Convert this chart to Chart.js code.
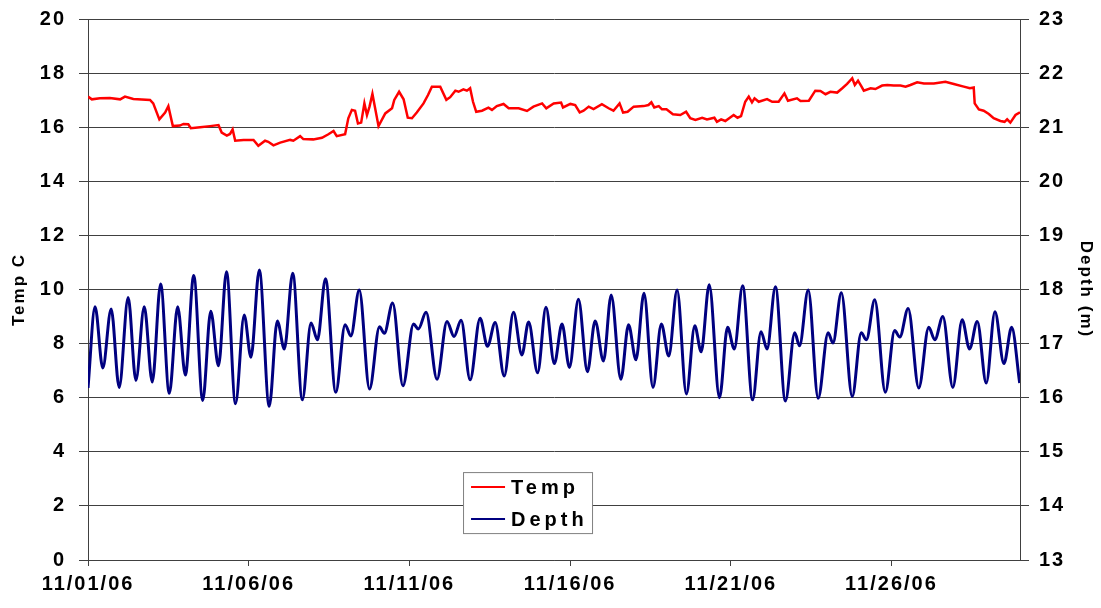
<!DOCTYPE html>
<html>
<head>
<meta charset="utf-8">
<script src="https://cdn.jsdelivr.net/npm/chart.js@4.4.1/dist/chart.umd.min.js"></script>
<style>
  html, body { margin: 0; padding: 0; background: #ffffff; }
  #wrap { width: 1101px; height: 608px; position: relative; }
</style>
</head>
<body>
<div id="wrap"><canvas id="c" width="1101" height="608"></canvas></div>
<script>
// ---- Data (x = days since 11/01/06 00:00) ----
const startDate = [2006, 10, 1];
const xTickDays = [0, 5, 10, 15, 20, 25];
const leftTicks = { min: 0, max: 20, step: 2 };
const rightTicks = { min: 13, max: 23, step: 1 };
const seriesNames = ["Temp", "Depth"];

const tempDays = [0.00,0.12,0.37,0.68,1.00,1.15,1.41,1.93,2.03,2.22,2.40,2.50,2.64,2.86,2.97,3.12,3.20,3.49,3.80,4.06,4.16,4.32,4.42,4.50,4.58,4.84,5.15,5.30,5.51,5.61,5.77,5.98,6.29,6.39,6.60,6.70,7.01,7.28,7.48,7.64,7.74,8.00,8.10,8.21,8.31,8.40,8.50,8.60,8.68,8.76,8.85,9.04,9.25,9.46,9.53,9.68,9.82,9.95,10.08,10.23,10.44,10.58,10.70,10.96,11.15,11.27,11.43,11.53,11.68,11.79,11.89,11.98,12.08,12.26,12.46,12.57,12.72,12.93,13.09,13.40,13.66,13.86,14.13,14.26,14.49,14.72,14.78,15.01,15.16,15.30,15.42,15.58,15.73,15.99,16.20,16.35,16.54,16.65,16.79,16.98,17.29,17.44,17.53,17.62,17.76,17.86,18.00,18.20,18.43,18.61,18.74,18.90,19.11,19.26,19.49,19.57,19.70,19.83,20.09,20.21,20.32,20.45,20.56,20.66,20.74,20.87,21.13,21.29,21.49,21.67,21.78,22.06,22.17,22.43,22.63,22.79,22.95,23.10,23.31,23.47,23.62,23.78,23.86,23.96,24.07,24.14,24.35,24.50,24.71,24.87,25.07,25.28,25.44,25.59,25.80,26.01,26.32,26.68,26.94,27.25,27.44,27.56,27.59,27.72,27.87,28.03,28.18,28.39,28.52,28.60,28.70,28.86,29.00];
const tempValues = [17.13,17.03,17.07,17.08,17.03,17.13,17.04,17.01,16.88,16.29,16.54,16.78,16.04,16.06,16.12,16.11,15.96,16.00,16.04,16.08,15.80,15.69,15.75,15.92,15.50,15.53,15.53,15.31,15.50,15.46,15.33,15.43,15.53,15.50,15.67,15.56,15.55,15.61,15.74,15.86,15.67,15.74,16.33,16.64,16.61,16.14,16.17,16.88,16.45,16.76,17.23,16.04,16.51,16.70,17.01,17.31,17.03,16.35,16.33,16.54,16.88,17.19,17.50,17.50,17.01,17.11,17.35,17.31,17.40,17.35,17.44,16.94,16.57,16.61,16.72,16.64,16.78,16.86,16.70,16.70,16.60,16.76,16.88,16.70,16.88,16.91,16.73,16.86,16.82,16.55,16.61,16.76,16.67,16.85,16.70,16.61,16.88,16.54,16.57,16.76,16.78,16.82,16.92,16.73,16.78,16.66,16.66,16.48,16.45,16.57,16.33,16.27,16.35,16.29,16.35,16.20,16.29,16.23,16.45,16.35,16.41,16.94,17.13,16.92,17.07,16.94,17.04,16.94,16.94,17.25,16.98,17.07,16.97,16.98,17.35,17.34,17.22,17.31,17.28,17.44,17.60,17.81,17.56,17.72,17.50,17.35,17.44,17.41,17.54,17.56,17.54,17.54,17.50,17.56,17.66,17.62,17.62,17.68,17.60,17.50,17.44,17.47,16.88,16.66,16.61,16.49,16.33,16.23,16.20,16.29,16.17,16.45,16.55];

const depthDays = [0.00,0.22,0.46,0.72,0.97,1.25,1.49,1.75,2.00,2.26,2.53,2.79,3.03,3.29,3.57,3.82,4.06,4.31,4.59,4.86,5.07,5.33,5.64,5.89,6.11,6.37,6.67,6.94,7.14,7.39,7.71,8.00,8.18,8.44,8.76,9.07,9.22,9.48,9.80,10.13,10.28,10.52,10.86,11.17,11.39,11.61,11.89,12.20,12.43,12.67,12.95,13.24,13.50,13.71,13.99,14.25,14.51,14.75,14.98,15.26,15.54,15.78,16.04,16.28,16.58,16.82,17.05,17.30,17.58,17.84,18.07,18.33,18.62,18.88,19.08,19.33,19.65,19.90,20.11,20.37,20.68,20.94,21.13,21.39,21.70,21.99,22.14,22.41,22.72,23.03,23.18,23.44,23.78,24.06,24.22,24.48,24.81,25.10,25.26,25.52,25.85,26.16,26.35,26.60,26.91,27.20,27.43,27.67,27.95,28.22,28.50,28.74,28.99];
const depthValues = [16.18,17.68,16.55,17.64,16.19,17.85,16.32,17.68,16.29,18.10,16.08,17.68,16.42,18.26,15.95,17.60,16.59,18.33,15.89,17.53,16.75,18.36,15.84,17.42,16.90,18.30,15.96,17.38,17.07,18.20,16.10,17.35,17.14,17.99,16.16,17.31,17.19,17.75,16.22,17.36,17.27,17.58,16.34,17.41,17.13,17.43,16.33,17.47,16.95,17.39,16.40,17.58,16.79,17.40,16.46,17.67,16.63,17.36,16.56,17.82,16.48,17.42,16.68,17.90,16.34,17.35,16.70,17.93,16.19,17.36,16.77,17.99,16.07,17.33,16.85,18.09,16.00,17.30,16.90,18.07,15.96,17.22,16.90,18.05,15.94,17.20,16.96,17.99,15.99,17.20,17.01,17.94,16.02,17.20,17.07,17.81,16.10,17.24,17.12,17.65,16.18,17.30,17.07,17.50,16.19,17.44,16.90,17.41,16.27,17.59,16.63,17.30,16.27];

// ---- Build chart ----
const pts = (xs, ys) => xs.map((x, i) => ({ x: x, y: ys[i] }));
const FONT = "'Liberation Sans', Arial, sans-serif";
const TEMP_COLOR = '#ff0000';
const DEPTH_COLOR = '#000080';
const GRID_COLOR = '#404040';

function fmtDate(v) {
  const d = new Date(startDate[0], startDate[1], startDate[2] + Math.round(v));
  const mm = String(d.getMonth() + 1).padStart(2, '0');
  const dd = String(d.getDate()).padStart(2, '0');
  const yy = String(d.getFullYear() % 100).padStart(2, '0');
  return mm + '/' + dd + '/' + yy;
}

const spacingPlugin = {
  id: 'spacing',
  beforeUpdate(chart) { chart.ctx.letterSpacing = '2px'; },
  beforeDraw(chart) { chart.ctx.letterSpacing = '2px'; }
};

const legendPlugin = {
  id: 'boxLegend',
  afterDraw(chart) {
    const ctx = chart.ctx;
    const ca = chart.chartArea;
    const bx = ca.left + (ca.right - ca.left) * 0.4024;
    const by = ca.top + (ca.bottom - ca.top) * 0.8375;
    const bw = 129, bh = 61;
    ctx.save();
    ctx.fillStyle = '#ffffff';
    ctx.fillRect(bx, by, bw, bh);
    ctx.strokeStyle = '#808080';
    ctx.lineWidth = 1;
    ctx.strokeRect(bx + 0.5, by + 0.5, bw, bh);
    const rows = [
      { label: chart.data.datasets[0].label, color: chart.data.datasets[0].borderColor, y: by + 15 },
      { label: chart.data.datasets[1].label, color: chart.data.datasets[1].borderColor, y: by + 47 }
    ];
    ctx.font = 'bold 20px ' + FONT;
    ctx.letterSpacing = '4px';
    ctx.textBaseline = 'middle';
    ctx.textAlign = 'left';
    rows.forEach(r => {
      ctx.strokeStyle = r.color;
      ctx.lineWidth = 2;
      ctx.beginPath();
      ctx.moveTo(bx + 8, r.y);
      ctx.lineTo(bx + 42, r.y);
      ctx.stroke();
      ctx.fillStyle = '#000000';
      ctx.fillText(r.label, bx + 48, r.y + 1);
    });
    ctx.restore();
  }
};

function fitY(w) {
  return function (scale) {
    scale.width = w;
    scale.paddingTop = 0;
    scale.paddingBottom = 0;
  };
}

new Chart(document.getElementById('c'), {
  type: 'line',
  data: {
    datasets: [
      {
        label: seriesNames[0],
        data: pts(tempDays, tempValues),
        yAxisID: 'y',
        borderColor: TEMP_COLOR,
        borderWidth: 2.5,
        pointRadius: 0,
        tension: 0,
        fill: false
      },
      {
        label: seriesNames[1],
        data: pts(depthDays, depthValues),
        yAxisID: 'y1',
        borderColor: DEPTH_COLOR,
        borderWidth: 3,
        pointRadius: 0,
        cubicInterpolationMode: 'monotone',
        fill: false
      }
    ]
  },
  options: {
    responsive: false,
    animation: false,
    events: [],
    layout: { padding: { top: 19, bottom: 0, left: 0, right: 0 } },
    plugins: {
      legend: { display: false },
      tooltip: { enabled: false },
      title: { display: false }
    },
    scales: {
      x: {
        type: 'linear',
        min: 0,
        max: 29,
        afterBuildTicks(scale) { scale.ticks = xTickDays.map(v => ({ value: v })); },
        afterFit(scale) { scale.height = 48; scale.paddingLeft = 0; scale.paddingRight = 0; },
        border: { display: true, color: GRID_COLOR, width: 1 },
        grid: { display: true, drawOnChartArea: false, drawTicks: true, tickLength: 6, color: GRID_COLOR },
        ticks: {
          padding: 6,
          maxRotation: 0,
          autoSkip: false,
          color: '#000000',
          font: { family: FONT, size: 20, weight: 'bold' },
          callback: (v) => fmtDate(v)
        }
      },
      y: {
        position: 'left',
        min: leftTicks.min,
        max: leftTicks.max,
        afterFit: fitY(88),
        border: { display: true, color: GRID_COLOR, width: 1 },
        grid: { color: GRID_COLOR, lineWidth: 1, drawTicks: true, tickLength: 9 },
        ticks: {
          stepSize: leftTicks.step,
          padding: 13,
          color: '#000000',
          font: { family: FONT, size: 20, weight: 'bold' }
        },
        title: {
          display: true,
          text: 'Temp C',
          color: '#000000',
          padding: { top: 9, bottom: 0 },
          font: { family: FONT, size: 17, weight: 'bold' }
        }
      },
      y1: {
        position: 'right',
        min: rightTicks.min,
        max: rightTicks.max,
        afterFit: fitY(81),
        border: { display: true, color: GRID_COLOR, width: 1 },
        grid: { drawOnChartArea: false, color: GRID_COLOR, drawTicks: true, tickLength: 9 },
        ticks: {
          stepSize: rightTicks.step,
          padding: 10,
          color: '#000000',
          font: { family: FONT, size: 20, weight: 'bold' }
        },
        title: {
          display: true,
          text: 'Depth (m)',
          color: '#000000',
          padding: { top: 5, bottom: 0 },
          font: { family: FONT, size: 17, weight: 'bold' }
        }
      }
    }
  },
  plugins: [spacingPlugin, legendPlugin]
});
</script>
</body>
</html>
